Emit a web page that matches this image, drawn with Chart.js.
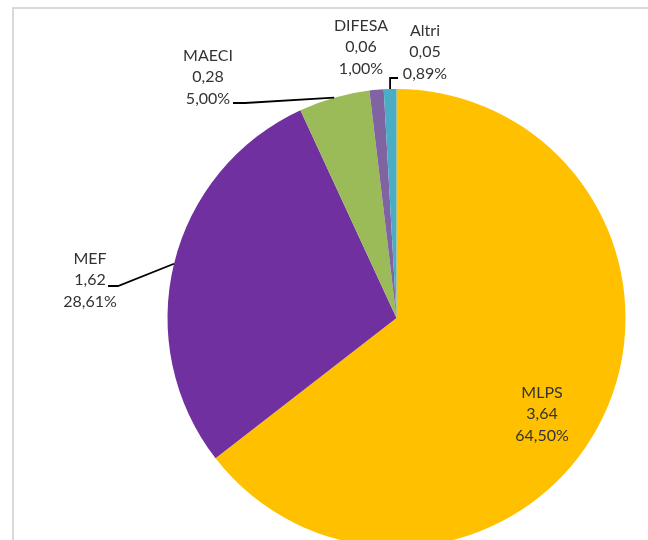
<!DOCTYPE html>
<html>
<head>
<meta charset="utf-8">
<script src="https://cdn.jsdelivr.net/npm/chart.js@4.4.0/dist/chart.umd.min.js"></script>
<style>
  html, body { margin: 0; padding: 0; background: #fff; overflow: hidden; }
  #wrap { width: 648px; height: 560px; }
</style>
</head>
<body>
<div id="wrap"><canvas id="myChart" width="648" height="560"></canvas></div>
<script>
// data
const categories = ['MLPS', 'MEF', 'MAECI', 'DIFESA', 'Altri'];
const values = [3.64, 1.62, 0.28, 0.06, 0.05];
const percents = [64.50, 28.61, 5.00, 1.00, 0.89];
const colors = ['#FFC000', '#7030A0', '#9BBB59', '#8064A2', '#4BACC6'];

// label placement, offsets from the pie centre (px)
// text: centre of the 3-line block; elbow/end: leader line bends (null = no leader)
const labelPos = [
  { text: [145.5, 96], elbow: null, end: null },
  { text: [-306.5, -38], elbow: [-278.5, -32], end: [-288.5, -32] },
  { text: [-188.5, -241], elbow: [-151.5, -215], end: [-163.5, -215] },
  { text: [-35.5, -271], elbow: null, end: null },
  { text: [28.5, -266], elbow: 'vertical', end: [1.5, -240] }
];

function fmt(n) {
  return n.toFixed(2).replace('.', ',');
}

// frame around the chart
const frame = {
  id: 'frame',
  beforeDraw(chart) {
    const c = chart.ctx;
    c.save();
    c.strokeStyle = '#d9d9d9';
    c.lineWidth = 2;
    c.strokeRect(13, 8, 700, 700);
    c.restore();
  }
};

// data labels + leader lines
const pieLabels = {
  id: 'pieLabels',
  afterDatasetsDraw(chart) {
    const c = chart.ctx;
    const arcs = chart.getDatasetMeta(0).data;
    c.save();
    c.font = '16px Lato';
    c.fillStyle = '#333333';
    c.textAlign = 'center';
    c.textBaseline = 'middle';
    arcs.forEach((arc, i) => {
      const p = labelPos[i];
      const cx = arc.x, cy = arc.y;
      const mid = (arc.startAngle + arc.endAngle) / 2;
      const ex = cx + Math.cos(mid) * arc.outerRadius;
      const ey = cy + Math.sin(mid) * arc.outerRadius;
      if (p.end) {
        c.beginPath();
        c.strokeStyle = '#000';
        c.lineWidth = 1.8;
        c.moveTo(ex, ey);
        if (p.elbow === 'vertical') {
          c.lineTo(ex, cy + p.end[1]);
          c.lineTo(cx + p.end[0], cy + p.end[1]);
        } else {
          c.lineTo(cx + p.elbow[0], cy + p.elbow[1]);
          c.lineTo(cx + p.end[0], cy + p.end[1]);
        }
        c.stroke();
      }
      const tx = cx + p.text[0], ty = cy + p.text[1];
      const lines = [categories[i], fmt(values[i]), fmt(percents[i]) + '%'];
      lines.forEach((t, k) => c.fillText(t, tx, ty + (k - 1) * 21.5));
    });
    c.restore();
  }
};

const ctx = document.getElementById('myChart');
new Chart(ctx, {
  type: 'pie',
  data: {
    labels: categories,
    datasets: [{
      data: percents,
      backgroundColor: colors,
      borderWidth: 0
    }]
  },
  options: {
    responsive: false,
    animation: false,
    devicePixelRatio: 1,
    layout: {
      padding: { left: 167.5, right: 22.5, top: 89, bottom: 13 }
    },
    plugins: {
      legend: { display: false },
      tooltip: { enabled: false }
    }
  },
  plugins: [frame, pieLabels]
});
</script>
</body>
</html>
